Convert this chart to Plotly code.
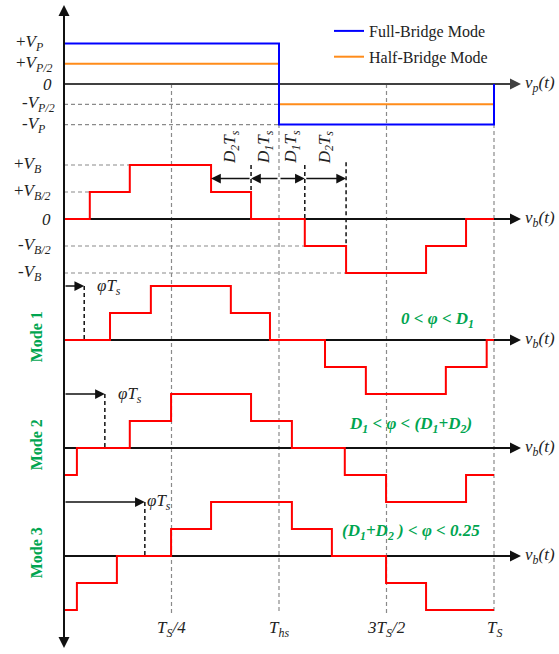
import plotly.graph_objects as go

# ---------------- data (time in units of Ts, levels in half-amplitude units) ----------------
vp_full_t = [0.0, 0.5, 1.0, 1.0]
vp_full_v = [2, -2, -2, 0]
vp_half_t = [0.0, 0.5, 1.0]
vp_half_v = [1, -1, -1]

vb_t = [0.0, 0.060, 0.153, 0.342, 0.435, 0.560, 0.656, 0.842, 0.935, 1.0]
vb_v = [0, 1, 2, 1, 0, -1, -2, -1, 0, 0]

m1_t = [0.0, 0.107, 0.202, 0.388, 0.479, 0.607, 0.702, 0.888, 0.983, 1.0]
m1_v = [0, 1, 2, 1, 0, -1, -2, -1, 0, 0]
m2_t = [0.0, 0.030, 0.153, 0.249, 0.435, 0.530, 0.653, 0.749, 0.935, 1.0]
m2_v = [-1, 0, 1, 2, 1, 0, -1, -2, -1, -1]
m3_t = [0.0, 0.030, 0.123, 0.249, 0.342, 0.530, 0.623, 0.749, 0.842, 1.0]
m3_v = [-2, -1, 0, 1, 2, 1, 0, -1, -2, -2]

phi_vals = [0.047, 0.095, 0.188]
mode_names = ["Mode 1", "Mode 2", "Mode 3"]
mode_conditions = [
    "<i>0 < φ < D<sub>1</sub></i>",
    "<i>D<sub>1</sub> < φ < (D<sub>1</sub>+D<sub>2</sub>)</i>",
    "<i>(D<sub>1</sub>+D<sub>2</sub> ) < φ < 0.25</i>",
]

vp_tick_vals = [2, 1, 0, -1, -2]
vp_tick_text = ["+<i>V<sub>P</sub></i>", "+<i>V<sub>P/2</sub></i>", "<i>0</i>",
                "-<i>V<sub>P/2</sub></i>", "-<i>V<sub>P</sub></i>"]
vb_tick_vals = [2, 1, 0, -1, -2]
vb_tick_text = ["+<i>V<sub>B</sub></i>", "+<i>V<sub>B/2</sub></i>", "<i>0</i>",
                "-<i>V<sub>B/2</sub></i>", "-<i>V<sub>B</sub></i>"]

time_tick_vals = [0.25, 0.5, 0.75, 1.0]
time_tick_text = ["<i>T<sub>S</sub>/4</i>", "<i>T<sub>hs</sub></i>",
                  "<i>3T<sub>S</sub>/2</i>", "<i>T<sub>S</sub></i>"]

d_labels = ["<i>D<sub>2</sub>T<sub>s</sub></i>", "<i>D<sub>1</sub>T<sub>s</sub></i>",
            "<i>D<sub>1</sub>T<sub>s</sub></i>", "<i>D<sub>2</sub>T<sub>s</sub></i>"]

# ---------------- layout geometry ----------------
W, H = 559, 654
X0PX, TSPX = 64, 430          # pixel of t=0, pixels per Ts
panels = [("y", 84, 20.3), ("y2", 219, 27), ("y3", 340, 27), ("y4", 448, 27), ("y5", 556, 27)]

FONT = "Liberation Serif"
RED, BLUE, ORANGE, GREEN = "#ff0000", "#0000ff", "#ff8c1a", "#00a550"
GRID = "#8a8a8a"


def px2t(px):
    return (px - X0PX) / TSPX


def yrange(base, step):
    hi = base / step
    return [hi - H / step, hi]


fig = go.Figure()

def dash_line(x, y, yref, color=GRID, width=1.2, dash="4px,3px"):
    fig.add_trace(go.Scatter(x=x, y=y, mode="lines", yaxis=yref, showlegend=False,
                             hoverinfo="skip", line=dict(color=color, width=width, dash=dash)))

# horizontal guides panel 1
dash_line([0, vp_full_t[1]], [vp_half_v[1]] * 2, "y")
dash_line([0, vp_full_t[1]], [vp_full_v[1]] * 2, "y")
# horizontal guides panel 2
dash_line([0, vb_t[2]], [2, 2], "y2")
dash_line([0, vb_t[1]], [1, 1], "y2")
dash_line([0, vb_t[5]], [-1, -1], "y2")
dash_line([0, vb_t[6]], [-2, -2], "y2")

# vertical guides spanning all panels
for tv in time_tick_vals:
    top = 84 if tv in (0.25, 0.75) else 124
    fig.add_shape(type="line", xref="x", yref="paper", x0=tv, x1=tv,
                  y0=1 - top / H, y1=1 - 613 / H, layer="below",
                  line=dict(color=GRID, width=1.2, dash="4px,3px"))

# horizontal axis lines (under the waveforms)
for yref, base, step in panels:
    col = "#404040" if yref == "y" else "#111"
    fig.add_trace(go.Scatter(x=[0, px2t(508)], y=[0, 0], mode="lines", yaxis=yref,
                             showlegend=False, hoverinfo="skip",
                             line=dict(color=col, width=2)))

# ---- vp waveforms ----
fig.add_trace(go.Scatter(x=vp_half_t, y=vp_half_v, mode="lines", line_shape="hv", yaxis="y",
                         name="Half-Bridge Mode", legendrank=2, legendgroup="b",
                         line=dict(color=ORANGE, width=2)))
fig.add_trace(go.Scatter(x=vp_full_t, y=vp_full_v, mode="lines", line_shape="hv", yaxis="y",
                         name="Full-Bridge Mode", legendrank=1, legendgroup="a",
                         line=dict(color=BLUE, width=2)))

# ---- black dashed markers in panel 2 ----
dash_line([vb_t[4]] * 2, [2, 1], "y2", color="#111", width=1.5, dash="4px,3px")
dash_line([vb_t[5]] * 2, [2, 0], "y2", color="#111", width=1.5, dash="4px,3px")
dash_line([vb_t[6]] * 2, [2.1, -1], "y2", color="#111", width=1.5, dash="4px,3px")

# ---- phi markers ----
for phi, yref in zip(phi_vals, ["y3", "y4", "y5"]):
    dash_line([phi, phi], [2, 0], yref, color="#111", width=1.5, dash="4px,3px")

# ---- red waveforms ----
for tt, vv, yref in [(vb_t, vb_v, "y2"), (m1_t, m1_v, "y3"), (m2_t, m2_v, "y4"), (m3_t, m3_v, "y5")]:
    fig.add_trace(go.Scatter(x=tt, y=vv, mode="lines", line_shape="hv", yaxis=yref,
                             showlegend=False, hoverinfo="skip",
                             line=dict(color=RED, width=2)))

ann = []

def arrow(x, y, ax, ay, yref, width=1.5, color="#111", size=1.3):
    ann.append(dict(x=x, y=y, ax=ax, ay=ay, xref="x", yref=yref, axref="x", ayref=yref,
                    text="", showarrow=True, arrowhead=2, arrowsize=size,
                    arrowwidth=width, arrowcolor=color, standoff=0, startstandoff=0))

def label(x, y, text, yref, size=16, xanchor="center", yanchor="middle", color="#222",
          angle=0):
    ann.append(dict(x=x, y=y, xref="x", yref=yref, text=text, showarrow=False,
                    xanchor=xanchor, yanchor=yanchor, textangle=angle,
                    font=dict(family=FONT, size=size, color=color)))

# axis arrowheads and names
axis_names = ["<i>v<sub>p</sub>(t)</i>", "<i>v<sub>b</sub>(t)</i>", "<i>v<sub>b</sub>(t)</i>",
              "<i>v<sub>b</sub>(t)</i>", "<i>v<sub>b</sub>(t)</i>"]
for (yref, base, step), name in zip(panels, axis_names):
    col = "#404040" if yref == "y" else "#111"
    arrow(px2t(521), 0, px2t(504), 0, yref, width=2, color=col, size=1.1)
    label(px2t(523), 0, name, yref, size=17, xanchor="left")

# vertical axis (two arrows from the middle)
ann.append(dict(x=0, y=1 - 5 / H, xref="x", yref="paper", ax=0, ay=330, axref="pixel",
                ayref="pixel", text="", showarrow=True, arrowhead=2, arrowsize=1.1,
                arrowwidth=2, arrowcolor="#111", standoff=0))
ann.append(dict(x=0, y=1 - 648 / H, xref="x", yref="paper", ax=0, ay=-330, axref="pixel",
                ayref="pixel", text="", showarrow=True, arrowhead=2, arrowsize=1.1,
                arrowwidth=2, arrowcolor="#111", standoff=0))

# y tick labels
for v, txt in zip(vp_tick_vals, vp_tick_text):
    if v > 0:
        label(px2t(14), v, txt, "y", size=17, xanchor="left")
    elif v < 0:
        label(px2t(20), v, txt, "y", size=17, xanchor="left")
    else:
        label(px2t(54), v, txt, "y", size=17, xanchor="right")
for v, txt in zip(vb_tick_vals, vb_tick_text):
    if v > 0:
        label(px2t(12), v, txt, "y2", size=17, xanchor="left")
    elif v < 0:
        label(px2t(16), v, txt, "y2", size=17, xanchor="left")
    else:
        label(px2t(53), v, txt, "y2", size=17, xanchor="right")

# D interval arrows and labels
bounds = [vb_t[3], vb_t[4], vp_full_t[1], vb_t[5], vb_t[6]]
arrow(bounds[1], 1.5, bounds[2], 1.5, "y2")
arrow(bounds[0], 1.5, bounds[1], 1.5, "y2")
arrow(bounds[3], 1.5, bounds[2], 1.5, "y2")
arrow(bounds[4], 1.5, bounds[3], 1.5, "y2")
for i, txt in enumerate(d_labels):
    label((bounds[i] + bounds[i + 1]) / 2, 2.67, txt, "y2", size=17, angle=-90)

# phi arrows, labels, mode names and conditions
phi_lab_y = [1.95, 1.95, 2.0]
cond_x = [0.868, 0.805, 0.806]
cond_y = [0.74, 0.85, 0.88]
for i, (phi, yref) in enumerate(zip(phi_vals, ["y3", "y4", "y5"])):
    arrow(phi, 2, 0, 2, yref)
    label(phi + 0.025 if i < 2 else phi, phi_lab_y[i], "<i>φT<sub>s</sub></i>", yref,
          size=17, xanchor="left")
    label(px2t(36), 0.1, "<b>" + mode_names[i] + "</b>", yref, size=16, color=GREEN, angle=-90)
    label(cond_x[i], cond_y[i], "<b>" + mode_conditions[i] + "</b>", yref, size=17, color=GREEN)

# time labels
for tv, txt in zip(time_tick_vals, time_tick_text):
    label(tv, -2.7, txt, "y5", size=17)

fig.update_layout(
    width=W, height=H, margin=dict(l=0, r=0, t=0, b=0),
    paper_bgcolor="white", plot_bgcolor="white",
    font=dict(family=FONT, size=16, color="#222"),
    xaxis=dict(range=[px2t(0), px2t(W)], visible=False, fixedrange=True),
    annotations=ann,
    showlegend=True,
    legend=dict(x=329 / W, y=1 - 14 / H, xanchor="left", yanchor="top",
                bgcolor="rgba(0,0,0,0)", font=dict(family=FONT, size=16, color="#222"),
                traceorder="grouped", tracegroupgap=2, itemwidth=30),
)
for i, (yref, base, step) in enumerate(panels):
    key = "yaxis" if yref == "y" else "yaxis" + yref[1:]
    cfg = dict(range=yrange(base, step), visible=False, fixedrange=True, domain=[0, 1])
    if yref != "y":
        cfg["overlaying"] = "y"
    fig.update_layout(**{key: cfg})

fig.write_html("out.html", config={"displayModeBar": False})
